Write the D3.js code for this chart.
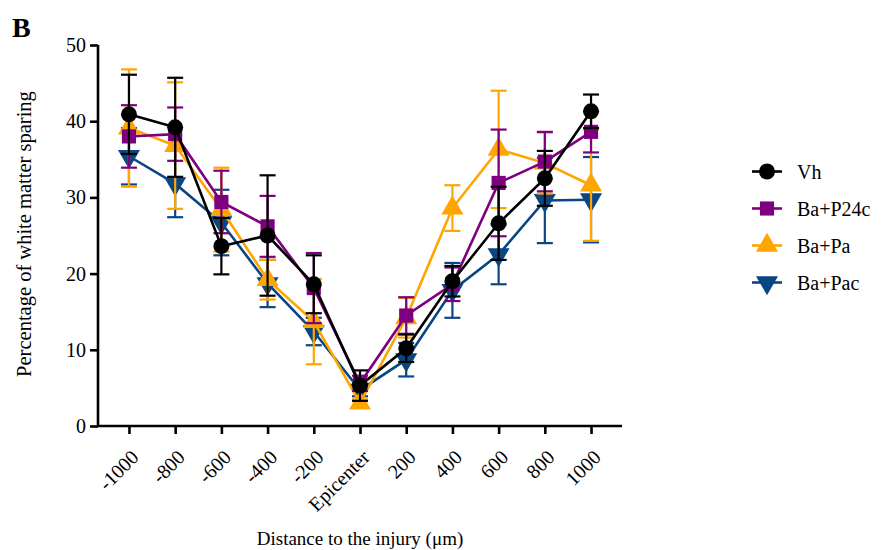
<!DOCTYPE html>
<html>
<head>
<meta charset="utf-8">
<script src="https://cdn.jsdelivr.net/npm/d3@7"></script>
<style>
  body { margin: 0; background: #fff; }
  svg text { font-family: "Liberation Serif", "Times New Roman", serif; fill: #000; }
</style>
</head>
<body>
<svg id="chart" width="885" height="550"></svg>
<script>
// Distance categories along the cord
const categories = ["-1000", "-800", "-600", "-400", "-200", "Epicenter", "200", "400", "600", "800", "1000"];
const yTicks = [0, 10, 20, 30, 40, 50];

// Mean white matter sparing (%) per group
const vhMean    = [40.9, 39.2, 23.6, 25.0, 18.6, 5.3, 10.2, 19.0, 26.6, 32.5, 41.3];
const vhErr     = [5.2, 6.5, 3.7, 7.9, 3.8, 2.0, 1.8, 2.0, 4.8, 3.6, 2.2];
const p24cMean  = [38.0, 38.3, 29.4, 26.2, 18.1, 5.6, 14.5, 18.6, 31.9, 34.7, 38.6];
const p24cErr   = [4.1, 3.5, 4.1, 4.0, 4.6, 1.0, 2.4, 2.2, 7.0, 3.9, 2.7];
const paMean    = [39.1, 36.8, 28.4, 19.2, 13.7, 3.0, 14.2, 28.6, 36.3, 34.5, 31.6];
const paErr     = [7.7, 8.3, 5.5, 2.6, 5.6, 0.5, 2.6, 3.0, 7.7, 4.0, 7.3];
const pacMean   = [35.4, 31.8, 26.7, 18.7, 12.4, 4.7, 8.7, 17.8, 22.5, 29.6, 29.7];
const pacErr    = [3.7, 4.4, 4.3, 3.1, 1.8, 0.8, 2.2, 3.6, 3.9, 5.6, 5.6];

const groups = [
  { name: "Vh",      mean: vhMean,   err: vhErr,   color: "#000000", shape: "circle" },
  { name: "Ba+P24c", mean: p24cMean, err: p24cErr, color: "#7f007f", shape: "square" },
  { name: "Ba+Pa",   mean: paMean,   err: paErr,   color: "#ffa500", shape: "up" },
  { name: "Ba+Pac",  mean: pacMean,  err: pacErr,  color: "#0a4683", shape: "down" }
];

const svg = d3.select("#chart");
const x = d3.scalePoint().domain(categories).range([98, 622]).padding(0.67);
const y = d3.scaleLinear().domain([0, 50]).range([426, 45]);

function symbolPath(shape) {
  if (shape === "circle") return d3.symbol(d3.symbolCircle, 200)();
  if (shape === "square") return d3.symbol(d3.symbolSquare, 200)();
  return d3.symbol(d3.symbolTriangle, 210)();
}
function symbolTransform(shape, cx, cy) {
  if (shape === "down") return `translate(${cx},${cy}) rotate(180)`;
  return `translate(${cx},${cy})`;
}

// Series drawn bottom-up so that Vh ends on top
const plot = svg.append("g");
groups.slice().reverse().forEach(g => {
  const gg = plot.append("g");
  const pts = categories.map((c, i) => ({ c, m: g.mean[i], e: g.err[i] }));
  // error bars
  const eb = gg.selectAll("g.eb").data(pts).join("g");
  eb.append("line")
    .attr("x1", d => x(d.c)).attr("x2", d => x(d.c))
    .attr("y1", d => y(d.m + d.e)).attr("y2", d => y(d.m - d.e))
    .attr("stroke", g.color).attr("stroke-width", 2.2);
  [1, -1].forEach(s => {
    eb.append("line")
      .attr("x1", d => x(d.c) - 8).attr("x2", d => x(d.c) + 8)
      .attr("y1", d => y(d.m + s * d.e)).attr("y2", d => y(d.m + s * d.e))
      .attr("stroke", g.color).attr("stroke-width", 2.2);
  });
  // connecting line
  gg.append("path")
    .datum(pts)
    .attr("d", d3.line().x(d => x(d.c)).y(d => y(d.m)))
    .attr("fill", "none").attr("stroke", g.color).attr("stroke-width", 2.6);
  // markers
  gg.selectAll("path.mk").data(pts).join("path")
    .attr("class", "mk")
    .attr("d", symbolPath(g.shape))
    .attr("transform", d => symbolTransform(g.shape, x(d.c), y(d.m)))
    .attr("fill", g.color);
});

// Axes
const yAxis = svg.append("g").attr("transform", "translate(98,0)")
  .call(d3.axisLeft(y).tickValues(yTicks).tickSize(8).tickPadding(4));
const xAxis = svg.append("g").attr("transform", "translate(0,426)")
  .call(d3.axisBottom(x).tickSize(8).tickPadding(4));
[yAxis, xAxis].forEach(a => {
  a.select(".domain").attr("stroke", "#000").attr("stroke-width", 2.6);
  a.selectAll(".tick line").attr("stroke", "#000").attr("stroke-width", 2.6);
  a.selectAll("text").style("font-family", '"Liberation Serif", serif').style("font-size", "20px").attr("fill", "#000");
});
// the x axis line runs from the y axis to the end of the range
xAxis.select(".domain").attr("d", "M98,0H622");
yAxis.select(".domain").attr("d", "M0,45V426");
xAxis.selectAll(".tick text")
  .attr("text-anchor", "end")
  .attr("dx", 0).attr("dy", 0)
  .attr("transform", "translate(2,24) rotate(-45)");

// Axis titles
svg.append("text")
  .attr("x", 360).attr("y", 545)
  .attr("text-anchor", "middle")
  .style("font-size", "19px")
  .text("Distance to the injury (μm)");
svg.append("text")
  .attr("transform", "translate(31,234) rotate(-90)")
  .attr("text-anchor", "middle")
  .style("font-size", "20.5px")
  .text("Percentage of white matter sparing");

// Panel letter
svg.append("text")
  .attr("x", 12).attr("y", 37)
  .style("font-size", "28px").style("font-weight", "bold")
  .text("B");

// Legend
const legend = svg.append("g");
groups.forEach((g, i) => {
  const cy = 171.5 + i * 37;
  legend.append("line")
    .attr("x1", 752).attr("x2", 782).attr("y1", cy).attr("y2", cy)
    .attr("stroke", g.color).attr("stroke-width", 2.6);
  legend.append("path")
    .attr("d", symbolPath(g.shape))
    .attr("transform", symbolTransform(g.shape, 767, cy))
    .attr("fill", g.color);
  legend.append("text")
    .attr("x", 797).attr("y", cy + 7)
    .style("font-size", "20px")
    .text(g.name);
});
</script>
</body>
</html>
